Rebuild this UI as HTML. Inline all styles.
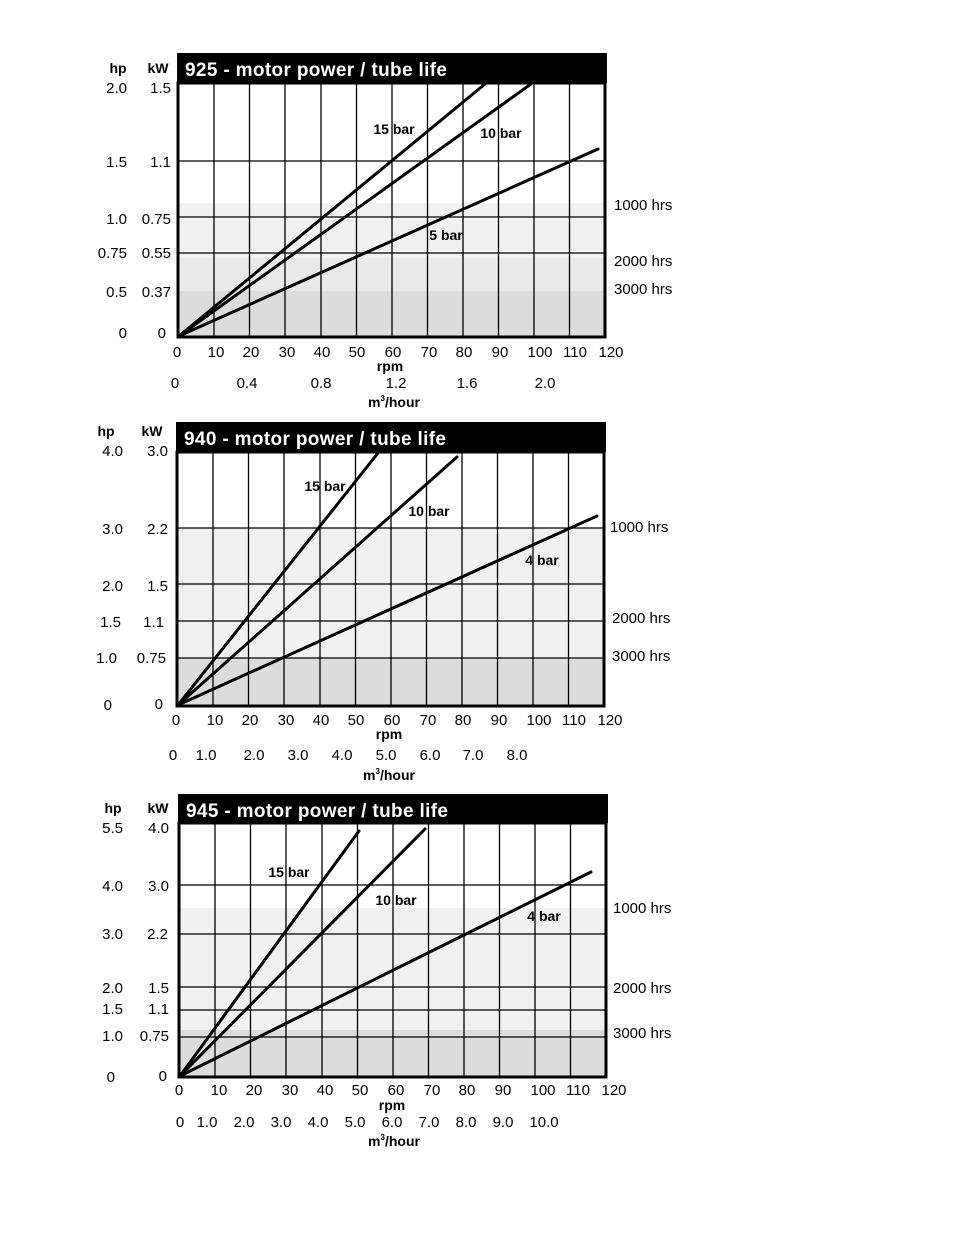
<!DOCTYPE html>
<html><head><meta charset="utf-8"><style>
html,body{margin:0;padding:0;background:#fff;}
svg{display:block;font-family:"Liberation Sans",Arial,sans-serif;}
.t{font-size:15px;fill:#000;}
.b{font-size:14px;font-weight:bold;fill:#000;}
.ti{font-size:19px;font-weight:bold;fill:#fff;}
.g{stroke:#000;stroke-width:1.3;fill:none;}
.c{stroke:#000;stroke-width:3;fill:none;stroke-linecap:round;}
</style></head><body>
<svg width="954" height="1235" viewBox="0 0 954 1235">
<!-- ===== Chart 1 ===== -->
<rect x="178" y="203" width="427" height="55" fill="#f1f1f1"/>
<rect x="178" y="258" width="427" height="33" fill="#e9e9e9"/>
<rect x="178" y="291" width="427" height="46" fill="#dcdcdc"/>
<g class="g">
<line x1="214" y1="83" x2="214" y2="337"/><line x1="249.5" y1="83" x2="249.5" y2="337"/><line x1="285" y1="83" x2="285" y2="337"/><line x1="321" y1="83" x2="321" y2="337"/><line x1="356.5" y1="83" x2="356.5" y2="337"/><line x1="392" y1="83" x2="392" y2="337"/><line x1="427.5" y1="83" x2="427.5" y2="337"/><line x1="463" y1="83" x2="463" y2="337"/><line x1="498.5" y1="83" x2="498.5" y2="337"/><line x1="534" y1="83" x2="534" y2="337"/><line x1="569.5" y1="83" x2="569.5" y2="337"/>
<line x1="178" y1="161" x2="605" y2="161"/><line x1="178" y1="217" x2="605" y2="217"/><line x1="178" y1="253" x2="605" y2="253"/>
</g>
<rect x="178" y="83" width="427" height="254" fill="none" stroke="#000" stroke-width="3"/>
<rect x="177" y="53" width="430" height="30" fill="#000"/>
<text x="185" y="76" class="ti" textLength="262">925 - motor power / tube life</text>
<line class="c" x1="179" y1="336" x2="485" y2="84"/>
<line class="c" x1="179" y1="336" x2="531" y2="84"/>
<line class="c" x1="179" y1="336" x2="598" y2="149"/>
<text x="394" y="134" class="b" text-anchor="middle">15 bar</text>
<text x="501" y="138" class="b" text-anchor="middle">10 bar</text>
<text x="446" y="240" class="b" text-anchor="middle">5 bar</text>
<g class="t" text-anchor="end">
<text x="127" y="93">2.0</text><text x="127" y="167">1.5</text><text x="127" y="224">1.0</text><text x="127" y="258">0.75</text><text x="127" y="297">0.5</text><text x="127" y="338">0</text>
<text x="171" y="93">1.5</text><text x="171" y="167">1.1</text><text x="171" y="224">0.75</text><text x="171" y="258">0.55</text><text x="171" y="297">0.37</text><text x="166" y="338">0</text>
</g>
<text x="118" y="73" class="b" text-anchor="middle">hp</text><text x="158" y="73" class="b" text-anchor="middle">kW</text>
<g class="t">
<text x="614" y="210">1000 hrs</text><text x="614" y="266">2000 hrs</text><text x="614" y="294">3000 hrs</text>
</g>
<g class="t" text-anchor="middle">
<text x="177" y="357">0</text><text x="216" y="357">10</text><text x="251" y="357">20</text><text x="287" y="357">30</text><text x="322" y="357">40</text><text x="357" y="357">50</text><text x="393" y="357">60</text><text x="429" y="357">70</text><text x="464" y="357">80</text><text x="500" y="357">90</text><text x="540" y="357">100</text><text x="575" y="357">110</text><text x="611" y="357">120</text>
<text x="175" y="388">0</text><text x="247" y="388">0.4</text><text x="321" y="388">0.8</text><text x="396" y="388">1.2</text><text x="467" y="388">1.6</text><text x="545" y="388">2.0</text>
</g>
<text x="390" y="371" class="b" text-anchor="middle">rpm</text>
<text x="394" y="407" class="b" text-anchor="middle">m<tspan font-size="8" dy="-6">3</tspan><tspan dy="6">/hour</tspan></text>

<!-- ===== Chart 2 ===== -->
<rect x="177" y="528" width="427" height="130" fill="#f1f1f1"/>
<rect x="177" y="658" width="427" height="48" fill="#dcdcdc"/>
<g class="g">
<line x1="213" y1="452" x2="213" y2="706"/><line x1="248.5" y1="452" x2="248.5" y2="706"/><line x1="284" y1="452" x2="284" y2="706"/><line x1="320" y1="452" x2="320" y2="706"/><line x1="355.5" y1="452" x2="355.5" y2="706"/><line x1="391" y1="452" x2="391" y2="706"/><line x1="426.5" y1="452" x2="426.5" y2="706"/><line x1="462" y1="452" x2="462" y2="706"/><line x1="497.5" y1="452" x2="497.5" y2="706"/><line x1="533" y1="452" x2="533" y2="706"/><line x1="568.5" y1="452" x2="568.5" y2="706"/>
<line x1="177" y1="528" x2="604" y2="528"/><line x1="177" y1="584" x2="604" y2="584"/><line x1="177" y1="621" x2="604" y2="621"/><line x1="177" y1="658" x2="604" y2="658"/>
</g>
<rect x="177" y="452" width="427" height="254" fill="none" stroke="#000" stroke-width="3"/>
<rect x="176" y="422" width="430" height="30" fill="#000"/>
<text x="184" y="445" class="ti" textLength="262">940 - motor power / tube life</text>
<line class="c" x1="178" y1="705" x2="378" y2="453"/>
<line class="c" x1="178" y1="705" x2="457" y2="457"/>
<line class="c" x1="178" y1="705" x2="597" y2="516"/>
<text x="325" y="491" class="b" text-anchor="middle">15 bar</text>
<text x="429" y="516" class="b" text-anchor="middle">10 bar</text>
<text x="542" y="565" class="b" text-anchor="middle">4 bar</text>
<g class="t" text-anchor="end">
<text x="123" y="456">4.0</text><text x="123" y="534">3.0</text><text x="123" y="591">2.0</text><text x="121" y="627">1.5</text><text x="117" y="663">1.0</text><text x="112" y="710">0</text>
<text x="168" y="456">3.0</text><text x="168" y="534">2.2</text><text x="168" y="591">1.5</text><text x="164" y="627">1.1</text><text x="166" y="663">0.75</text><text x="163" y="709">0</text>
</g>
<text x="106" y="436" class="b" text-anchor="middle">hp</text><text x="152" y="436" class="b" text-anchor="middle">kW</text>
<g class="t">
<text x="610" y="532">1000 hrs</text><text x="612" y="623">2000 hrs</text><text x="612" y="661">3000 hrs</text>
</g>
<g class="t" text-anchor="middle">
<text x="176" y="725">0</text><text x="215" y="725">10</text><text x="250" y="725">20</text><text x="286" y="725">30</text><text x="321" y="725">40</text><text x="356" y="725">50</text><text x="392" y="725">60</text><text x="428" y="725">70</text><text x="463" y="725">80</text><text x="499" y="725">90</text><text x="539" y="725">100</text><text x="574" y="725">110</text><text x="610" y="725">120</text>
<text x="173" y="760">0</text><text x="206" y="760">1.0</text><text x="254" y="760">2.0</text><text x="298" y="760">3.0</text><text x="342" y="760">4.0</text><text x="386" y="760">5.0</text><text x="430" y="760">6.0</text><text x="473" y="760">7.0</text><text x="517" y="760">8.0</text>
</g>
<text x="389" y="739" class="b" text-anchor="middle">rpm</text>
<text x="389" y="780" class="b" text-anchor="middle">m<tspan font-size="8" dy="-6">3</tspan><tspan dy="6">/hour</tspan></text>

<!-- ===== Chart 3 ===== -->
<rect x="179" y="908" width="427" height="122" fill="#f1f1f1"/>
<rect x="179" y="1030" width="427" height="47" fill="#dcdcdc"/>
<g class="g">
<line x1="215" y1="823" x2="215" y2="1077"/><line x1="250.5" y1="823" x2="250.5" y2="1077"/><line x1="286" y1="823" x2="286" y2="1077"/><line x1="322" y1="823" x2="322" y2="1077"/><line x1="357.5" y1="823" x2="357.5" y2="1077"/><line x1="393" y1="823" x2="393" y2="1077"/><line x1="428.5" y1="823" x2="428.5" y2="1077"/><line x1="464" y1="823" x2="464" y2="1077"/><line x1="499.5" y1="823" x2="499.5" y2="1077"/><line x1="535" y1="823" x2="535" y2="1077"/><line x1="570.5" y1="823" x2="570.5" y2="1077"/>
<line x1="179" y1="885" x2="606" y2="885"/><line x1="179" y1="934" x2="606" y2="934"/><line x1="179" y1="987" x2="606" y2="987"/><line x1="179" y1="1010" x2="606" y2="1010"/><line x1="179" y1="1037" x2="606" y2="1037"/>
</g>
<rect x="179" y="823" width="427" height="254" fill="none" stroke="#000" stroke-width="3"/>
<rect x="178" y="794" width="430" height="29" fill="#000"/>
<text x="186" y="817" class="ti" textLength="262">945 - motor power / tube life</text>
<line class="c" x1="180" y1="1076" x2="359" y2="831"/>
<line class="c" x1="180" y1="1076" x2="425" y2="829"/>
<line class="c" x1="180" y1="1076" x2="591" y2="872"/>
<text x="289" y="877" class="b" text-anchor="middle">15 bar</text>
<text x="396" y="905" class="b" text-anchor="middle">10 bar</text>
<text x="544" y="921" class="b" text-anchor="middle">4 bar</text>
<g class="t" text-anchor="end">
<text x="123" y="833">5.5</text><text x="123" y="891">4.0</text><text x="123" y="939">3.0</text><text x="123" y="993">2.0</text><text x="123" y="1014">1.5</text><text x="123" y="1041">1.0</text><text x="115" y="1082">0</text>
<text x="169" y="833">4.0</text><text x="169" y="891">3.0</text><text x="168" y="939">2.2</text><text x="169" y="993">1.5</text><text x="169" y="1014">1.1</text><text x="169" y="1041">0.75</text><text x="167" y="1081">0</text>
</g>
<text x="113" y="813" class="b" text-anchor="middle">hp</text><text x="158" y="813" class="b" text-anchor="middle">kW</text>
<g class="t">
<text x="613" y="913">1000 hrs</text><text x="613" y="993">2000 hrs</text><text x="613" y="1038">3000 hrs</text>
</g>
<g class="t" text-anchor="middle">
<text x="179" y="1095">0</text><text x="219" y="1095">10</text><text x="254" y="1095">20</text><text x="290" y="1095">30</text><text x="325" y="1095">40</text><text x="360" y="1095">50</text><text x="396" y="1095">60</text><text x="432" y="1095">70</text><text x="467" y="1095">80</text><text x="503" y="1095">90</text><text x="543" y="1095">100</text><text x="578" y="1095">110</text><text x="614" y="1095">120</text>
<text x="180" y="1127">0</text><text x="207" y="1127">1.0</text><text x="244" y="1127">2.0</text><text x="281" y="1127">3.0</text><text x="318" y="1127">4.0</text><text x="355" y="1127">5.0</text><text x="392" y="1127">6.0</text><text x="429" y="1127">7.0</text><text x="466" y="1127">8.0</text><text x="503" y="1127">9.0</text><text x="544" y="1127">10.0</text>
</g>
<text x="392" y="1110" class="b" text-anchor="middle">rpm</text>
<text x="394" y="1146" class="b" text-anchor="middle">m<tspan font-size="8" dy="-6">3</tspan><tspan dy="6">/hour</tspan></text>
</svg>
</body></html>
